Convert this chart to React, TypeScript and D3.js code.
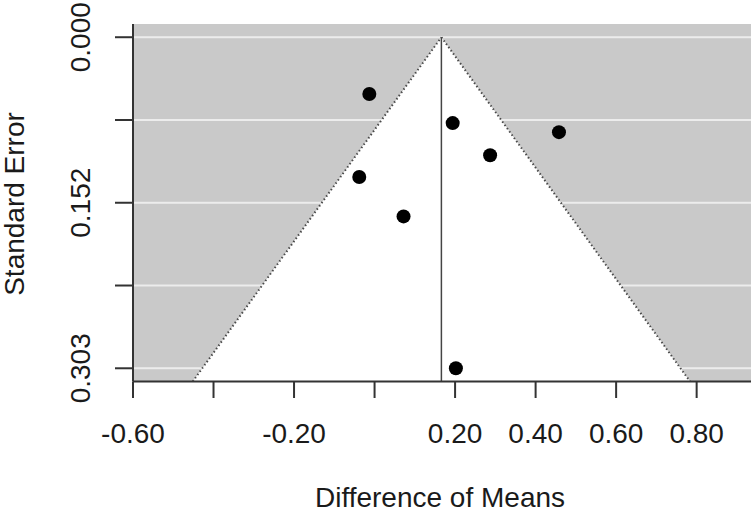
import React from "react";
import * as d3 from "d3";

const effects = [-0.013, 0.194, 0.458, 0.287, -0.038, 0.072, 0.202];
const stdErrors = [0.052, 0.0786, 0.0869, 0.108, 0.128, 0.164, 0.303];
const pooledEffect = 0.166;
const xTicks = [-0.6, -0.4, -0.2, 0.0, 0.2, 0.4, 0.6, 0.8];
const xTickLabels = ["-0.60", "", "-0.20", "", "0.20", "0.40", "0.60", "0.80"];
const yTicks = [0, 0.07575, 0.1515, 0.22725, 0.303];
const yTickLabels = ["0.000", "", "0.152", "", "0.303"];

const W = 756;
const H = 516;
const left = 133;
const right = 751;
const top = 24;
const bottom = 381.5;
const FONT = "'Liberation Sans', Arial, Helvetica, sans-serif";

export default function App() {
  const x = d3.scaleLinear().domain([-0.6, 0.935]).range([left, right]);
  const y = d3.scaleLinear().domain([-0.0121, 0.3151]).range([top, bottom]);
  const seMax = y.domain()[1];
  const z = 1.96;
  const funnel: [number, number][] = [
    [x(pooledEffect), y(0)],
    [x(pooledEffect - z * seMax), y(seMax)],
    [x(pooledEffect + z * seMax), y(seMax)],
  ];
  const line = d3.line();
  return (
    <svg
      width={W}
      height={H}
      style={{ position: "absolute", left: 0, top: 0, background: "#fff" }}
      fontFamily={FONT}
    >
      <rect x={left} y={top} width={right - left} height={bottom - top} fill="#c9c9c9" />
      {yTicks.map((t, i) => (
        <line
          key={"g" + i}
          x1={left}
          x2={right}
          y1={y(t)}
          y2={y(t)}
          stroke="#ececec"
          strokeWidth={2}
        />
      ))}
      <path d={line([...funnel, funnel[0]]) || ""} fill="#ffffff" stroke="none" />
      <path d={line([funnel[1], funnel[0]]) || ""} fill="none" stroke="#4a4a4a" strokeWidth={2} strokeDasharray="1.5 2.5" />
      <path d={line([funnel[0], funnel[2]]) || ""} fill="none" stroke="#4a4a4a" strokeWidth={2} strokeDasharray="1.5 2.5" />
      <line x1={x(pooledEffect)} x2={x(pooledEffect)} y1={y(0)} y2={bottom} stroke="#444" strokeWidth={1.5} />
      {effects.map((e, i) => (
        <circle key={"p" + i} cx={x(e)} cy={y(stdErrors[i])} r={7} fill="#000" />
      ))}
      <line x1={left} x2={left} y1={top} y2={bottom} stroke="#333" strokeWidth={2} />
      <line x1={left} x2={right} y1={bottom} y2={bottom} stroke="#333" strokeWidth={2} />
      {xTicks.map((t, i) => (
        <g key={"xt" + i}>
          <line x1={x(t)} x2={x(t)} y1={bottom} y2={398} stroke="#333" strokeWidth={2} />
          {xTickLabels[i] && (
            <text x={x(t)} y={443} textAnchor="middle" fontSize={28} fill="#1a1a1a">
              {xTickLabels[i]}
            </text>
          )}
        </g>
      ))}
      {yTicks.map((t, i) => (
        <g key={"yt" + i}>
          <line x1={115} x2={left} y1={y(t)} y2={y(t)} stroke="#333" strokeWidth={2} />
          {yTickLabels[i] && (
            <text
              transform={`translate(90,${y(t)}) rotate(-90)`}
              textAnchor="middle"
              fontSize={28}
              fill="#1a1a1a"
            >
              {yTickLabels[i]}
            </text>
          )}
        </g>
      ))}
      <text x={440} y={507} textAnchor="middle" fontSize={28} fill="#1a1a1a">
        Difference of Means
      </text>
      <text transform={`translate(24,204) rotate(-90)`} textAnchor="middle" fontSize={28} fill="#1a1a1a">
        Standard Error
      </text>
    </svg>
  );
}
